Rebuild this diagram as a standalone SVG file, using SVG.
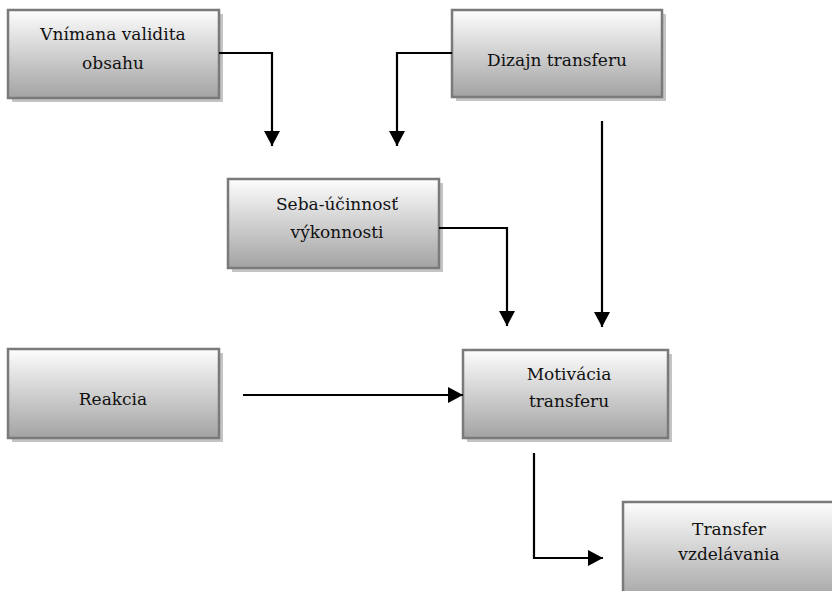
<svg xmlns="http://www.w3.org/2000/svg" width="832" height="591" viewBox="0 0 832 591">
<defs>
<linearGradient id="g" x1="0" y1="0" x2="0" y2="1">
<stop offset="0" stop-color="#fdfdfd"/>
<stop offset="1" stop-color="#a3a3a3"/>
</linearGradient>
<marker id="ah" markerUnits="userSpaceOnUse" markerWidth="16" markerHeight="16" refX="15" refY="8" orient="auto">
<path d="M0,0 L15,8 L0,16 z" fill="#000"/>
</marker>
<style>
.sh{fill:#c4c4c4}
.bx{fill:url(#g);stroke:#7a7a7a;stroke-width:2.5}
.t{font-family:'DejaVu Serif','Liberation Serif',serif;font-size:17px;fill:#111;text-anchor:middle}
.c{fill:none;stroke:#000;stroke-width:2.2;marker-end:url(#ah)}
</style>
</defs>
<rect width="832" height="591" fill="#fff"/>
<g id="n1">
<rect class="sh" x="12" y="14" width="211" height="88"/>
<rect class="bx" x="8" y="10" width="211" height="88"/>
<text class="t" x="113" y="40">Vnímana validita</text>
<text class="t" x="113" y="69">obsahu</text>
</g>
<g id="n2">
<rect class="sh" x="456" y="14" width="210" height="87"/>
<rect class="bx" x="452" y="10" width="210" height="87"/>
<text class="t" x="557" y="66">Dizajn transferu</text>
</g>
<g id="n3">
<rect class="sh" x="232" y="183" width="211" height="89"/>
<rect class="bx" x="228" y="179" width="211" height="89"/>
<text class="t" x="337" y="210">Seba-účinnosť</text>
<text class="t" x="337" y="238">výkonnosti</text>
</g>
<g id="n4">
<rect class="sh" x="12" y="353" width="211" height="89"/>
<rect class="bx" x="8" y="349" width="211" height="89"/>
<text class="t" x="113" y="405">Reakcia</text>
</g>
<g id="n5">
<rect class="sh" x="467" y="354" width="205" height="88"/>
<rect class="bx" x="463" y="350" width="205" height="88"/>
<text class="t" x="569" y="380">Motivácia</text>
<text class="t" x="569" y="407">transferu</text>
</g>
<g id="n6">
<rect class="sh" x="627" y="506" width="211" height="100"/>
<rect class="bx" x="623" y="502" width="211" height="100"/>
<text class="t" x="729" y="535">Transfer</text>
<text class="t" x="729" y="560">vzdelávania</text>
</g>
<g id="connectors">
<path class="c" d="M219,53 H272 V146"/>
<path class="c" d="M452,53 H397 V146"/>
<path class="c" d="M602,121 V327"/>
<path class="c" d="M439,228 H507 V326"/>
<path class="c" d="M243,395 H463"/>
<path class="c" d="M534,453 V558 H603"/>
</g>
</svg>
